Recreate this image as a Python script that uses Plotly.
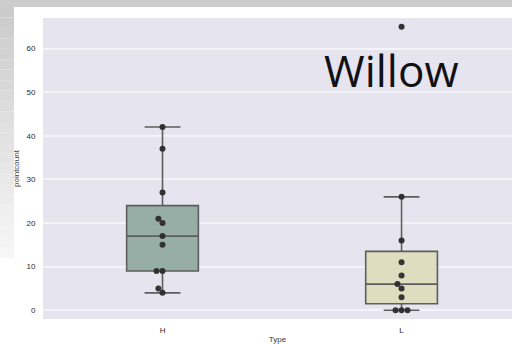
import numpy as np
import plotly.graph_objects as go

# ---- data ----
categories = ["H", "L"]
h_values = [42, 37, 27, 21, 20, 17, 15, 9, 9, 5, 4]
l_values = [65, 26, 16, 11, 8, 6, 5, 3, 0, 0, 0]
series = [h_values, l_values]
box_colors = ["#96AEA5", "#DEDDC0"]
y_ticks = [0, 10, 20, 30, 40, 50, 60]

# ---- layout constants ----
W, H = 512, 344
ML, MR, MT, MB = 43, 0, 18, 25
PW, PH = W - ML - MR, H - MT - MB
X_RANGE = [-0.5, 1.462]
Y_RANGE = [-2, 67]
px_x = PW / (X_RANGE[1] - X_RANGE[0])
px_y = PH / (Y_RANGE[1] - Y_RANGE[0])
DOT = 6.0  # marker diameter in px


def swarm_offsets(vals):
    """simple beeswarm: place ascending values nearest to center, left preferred"""
    order = np.argsort(vals, kind="stable")
    placed = []  # (x_px, y_px)
    offs = np.zeros(len(vals))
    for i in order:
        y = vals[i] * px_y
        cands = [0.0]
        for (px, py) in placed:
            dy = abs(py - y)
            if dy < DOT:
                dx = np.sqrt(DOT ** 2 - dy ** 2)
                cands += [px - dx, px + dx]
        cands = sorted(set(cands), key=lambda c: (abs(c), c))
        for c in cands:
            if all((c - px) ** 2 + (y - py) ** 2 >= DOT ** 2 - 1e-6 for px, py in placed):
                offs[i] = c / px_x
                placed.append((c, y))
                break
    return offs


fig = go.Figure()
for k, (cat, vals) in enumerate(zip(categories, series)):
    v = np.array(vals, dtype=float)
    q1, med, q3 = np.percentile(v, [25, 50, 75])
    iqr = q3 - q1
    lo = v[v >= q1 - 1.5 * iqr].min()
    hi = v[v <= q3 + 1.5 * iqr].max()
    fig.add_trace(go.Box(
        x=[k], q1=[q1], median=[med], q3=[q3], lowerfence=[lo], upperfence=[hi],
        width=0.3, whiskerwidth=0.5, boxpoints=False,
        fillcolor=box_colors[k], line=dict(color="#5E5E5E", width=1.6),
        name=cat, showlegend=False, hoverinfo="skip",
    ))
    offs = swarm_offsets(v)
    fig.add_trace(go.Scatter(
        x=k + offs, y=v, mode="markers",
        marker=dict(color="#2B2B2B", size=DOT, opacity=0.95, line=dict(width=0)),
        showlegend=False, hoverinfo="skip",
    ))

# ---- slide decoration (gray frame) ----
def px2paper_x(p):
    return (p - ML) / PW


def px2paper_y(p):
    return (H - MB - p) / PH


shapes = [dict(type="rect", xref="paper", yref="paper",
               x0=px2paper_x(0), x1=px2paper_x(W), y0=px2paper_y(7), y1=px2paper_y(0),
               fillcolor="#CCCCCC", line=dict(width=0), layer="below")]
steps = 24
top, bot = 7, 258
for s in range(steps):
    t = s / (steps - 1)
    g = int(round(0xCB + (0xF6 - 0xCB) * t))
    ya = top + (bot - top) * s / steps
    yb = top + (bot - top) * (s + 1) / steps
    shapes.append(dict(type="rect", xref="paper", yref="paper",
                       x0=px2paper_x(0), x1=px2paper_x(14),
                       y0=px2paper_y(yb), y1=px2paper_y(ya),
                       fillcolor=f"rgb({g},{g},{g})", line=dict(width=0), layer="below"))

TICKFONT = dict(family="Liberation Sans, Arial, sans-serif", size=8, color="#2A2A2A")
TITLEFONT = dict(family="Liberation Sans, Arial, sans-serif", size=8, color="#3A3A3A")

fig.update_layout(
    width=W, height=H,
    margin=dict(l=ML, r=MR, t=MT, b=MB, pad=0),
    paper_bgcolor="white", plot_bgcolor="#E5E4EF",
    font=TICKFONT,
    shapes=shapes,
    xaxis=dict(range=X_RANGE, tickvals=[0, 1], ticktext=categories,
               showgrid=False, zeroline=False, showline=False,
               ticks="outside", ticklen=3, tickcolor="rgba(0,0,0,0)",
               tickfont=TICKFONT,
               title=dict(text="Type", standoff=2, font=TITLEFONT)),
    yaxis=dict(range=Y_RANGE, tickvals=y_ticks,
               showgrid=True, gridcolor="#F4F4F8", gridwidth=1.5,
               zeroline=False, showline=False,
               ticks="outside", ticklen=5, tickcolor="rgba(0,0,0,0)",
               tickfont=TICKFONT,
               title=dict(text="pointcount", standoff=5, font=TITLEFONT)),
    annotations=[dict(text="Willow", xref="paper", yref="paper",
                      x=px2paper_x(322), y=px2paper_y(70),
                      xanchor="left", yanchor="middle", showarrow=False,
                      font=dict(family="Open Sans, sans-serif", size=44, color="#111111"))],
)

fig.write_html("out.html", config={"displayModeBar": False},
               post_script="document.body.style.margin='0';document.body.style.overflow='hidden';")
